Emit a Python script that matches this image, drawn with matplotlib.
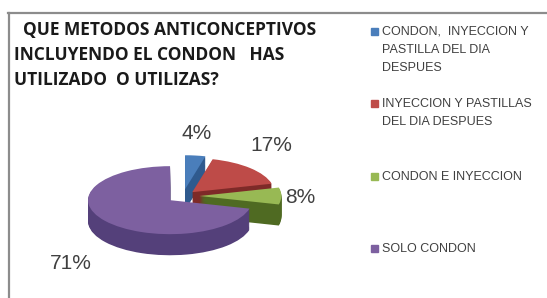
import matplotlib
matplotlib.use("Agg")
import matplotlib.pyplot as plt
from matplotlib.patches import Rectangle
from matplotlib.lines import Line2D
import numpy as np

categories = ["CONDON,  INYECCION Y\nPASTILLA DEL DIA\nDESPUES",
              "INYECCION Y PASTILLAS\nDEL DIA DESPUES",
              "CONDON E INYECCION",
              "SOLO CONDON"]
values = [4, 17, 8, 71]
pct_labels = ["4%", "17%", "8%", "71%"]
title = "  QUE METODOS ANTICONCEPTIVOS\nINCLUYENDO EL CONDON   HAS\nUTILIZADO  O UTILIZAS?"

top_colors = ["#4a7ebb", "#be4b48", "#98b954", "#7d60a0"]
side_colors = ["#2f5a8e", "#7e2a28", "#4f6a22", "#54407a"]
explode = [0.2, 0.16, 0.2, 0.2]

W, H = 547, 298
fig = plt.figure(figsize=(W / 100, H / 100), dpi=100)
fig.patch.set_facecolor("white")

# frame
fig.add_artist(Line2D([8 / W, 1], [1 - 12.5 / H, 1 - 12.5 / H], color="#8c8c8c", lw=1.6))
fig.add_artist(Line2D([8.5 / W, 8.5 / W], [0, 1 - 12.5 / H], color="#8c8c8c", lw=1.6))

# pie axes
cx, cy = 183, 196
rx, ry = 82, 34
xr, yr = 2.2, 2.6
ax = fig.add_axes([(cx - xr * rx) / W, 1 - (cy + yr * ry) / H,
                   2 * xr * rx / W, 2 * yr * ry / H])
depth = 0.62
n_layers = 24
for i in range(n_layers, 0, -1):
    off = -depth * i / n_layers
    ax.pie(values, colors=side_colors, explode=explode, startangle=90,
           counterclock=False, center=(0, off),
           wedgeprops=dict(linewidth=0))
wedges, _ = ax.pie(values, colors=top_colors, explode=explode, startangle=90,
                   counterclock=False, center=(0, 0),
                   wedgeprops=dict(linewidth=0))
ax.set_aspect("auto")
ax.set_xlim(-xr, xr)
ax.set_ylim(-yr, yr)
ax.axis("off")

# percentage labels
label_r = [1.86, 1.84, 1.43, 2.4]
label_da = [2, 9.4, -2, 17.6]
for w, t, r, da in zip(wedges, pct_labels, label_r, label_da):
    ang = np.deg2rad((w.theta1 + w.theta2) / 2 + da)
    ax.text(r * np.cos(ang), r * np.sin(ang), t, ha="center", va="center",
            fontsize=15, color="#404040", family="Liberation Sans")

# title
fig.text(14 / W, 1 - 21 / H, title, ha="left", va="top", fontsize=12.5,
         fontweight="bold", color="#1a1a1a", family="Open Sans",
         linespacing=1.5)

# legend
leg_y = [31, 103, 176, 248]
for lab, col, y in zip(categories, top_colors, leg_y):
    fig.add_artist(Rectangle(((371) / W, 1 - (y + 4) / H), 7 / W, 7 / H,
                             color=col, transform=fig.transFigure))
    fig.text(382 / W, 1 - (y - 5) / H, lab, ha="left", va="top",
             fontsize=9, color="#404040", family="Liberation Sans",
             linespacing=1.65)

fig.savefig("out.png", dpi=100, facecolor="white")
